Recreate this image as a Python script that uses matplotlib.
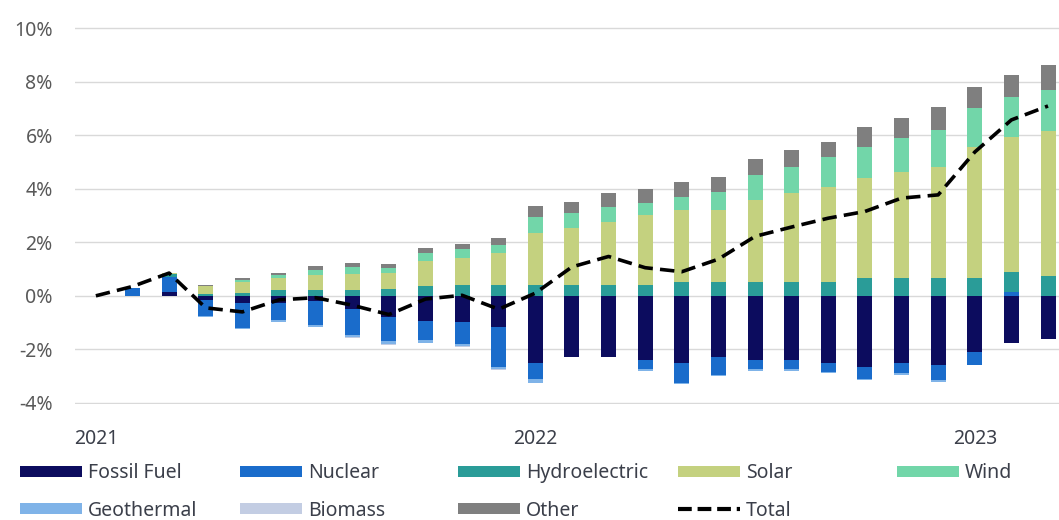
import numpy as np
import matplotlib.pyplot as plt
from matplotlib.patches import Patch
from matplotlib.lines import Line2D

plt.rcParams['font.family'] = ['Noto Sans', 'DejaVu Sans']

# monthly data, Jan 2021 - Mar 2023 (percent change)
months = ['2021-01', '2021-02', '2021-03', '2021-04', '2021-05', '2021-06',
          '2021-07', '2021-08', '2021-09', '2021-10', '2021-11', '2021-12',
          '2022-01', '2022-02', '2022-03', '2022-04', '2022-05', '2022-06',
          '2022-07', '2022-08', '2022-09', '2022-10', '2022-11', '2022-12',
          '2023-01', '2023-02', '2023-03']
year_ticks = [0, 12, 24]
year_labels = ['2021', '2022', '2023']

fossil = [0, 0, 0.15, -0.15, -0.25, -0.25, -0.2, -0.5, -0.8, -0.95, -0.97, -1.15,
          -2.5, -2.3, -2.27, -2.4, -2.5, -2.3, -2.4, -2.4, -2.5, -2.65, -2.5, -2.6,
          -2.1, -1.75, -1.6]
nuclear = [0, 0.3, 0.55, -0.6, -0.95, -0.65, -0.9, -0.95, -0.9, -0.7, -0.83, -1.5,
           -0.6, 0, 0, -0.35, -0.75, -0.65, -0.35, -0.35, -0.35, -0.45, -0.4, -0.55,
           -0.5, 0.15, 0]
hydro = [0, 0, 0.1, 0.05, 0.1, 0.2, 0.22, 0.22, 0.25, 0.35, 0.4, 0.4,
         0.41, 0.41, 0.41, 0.41, 0.52, 0.52, 0.52, 0.52, 0.52, 0.67, 0.67, 0.67,
         0.67, 0.75, 0.75]
solar = [0, 0, 0.05, 0.3, 0.4, 0.45, 0.55, 0.6, 0.6, 0.95, 1.0, 1.2,
         1.94, 2.13, 2.35, 2.61, 2.69, 2.69, 3.06, 3.32, 3.54, 3.73, 3.96, 4.14,
         4.89, 5.04, 5.41]
wind = [0, 0, 0, 0.03, 0.1, 0.12, 0.2, 0.25, 0.2, 0.3, 0.35, 0.3,
        0.6, 0.56, 0.56, 0.45, 0.49, 0.67, 0.93, 0.97, 1.12, 1.16, 1.27, 1.38,
        1.46, 1.49, 1.53]
geothermal = [0, 0, 0, -0.05, -0.05, -0.07, -0.05, -0.1, -0.1, -0.1, -0.07, -0.1,
              -0.15, 0, 0, -0.05, -0.05, -0.05, -0.05, -0.05, -0.05, -0.05, -0.05, -0.05,
              0, 0, 0]
biomass = [0, 0, 0, 0, 0, 0, 0, -0.03, -0.03, -0.03, -0.03, -0.03,
           0, 0, 0, 0, 0, 0, 0, 0, 0, 0, 0, 0,
           0, 0, 0]
other = [0, 0, 0, 0.02, 0.07, 0.08, 0.15, 0.16, 0.15, 0.2, 0.2, 0.25,
         0.41, 0.41, 0.52, 0.52, 0.56, 0.56, 0.6, 0.63, 0.56, 0.75, 0.75, 0.86,
         0.78, 0.82, 0.93]
total = [0, 0.35, 0.85, -0.45, -0.6, -0.15, -0.07, -0.35, -0.7, -0.12, 0.02, -0.5,
         0.1, 1.08, 1.47, 1.05, 0.9, 1.37, 2.22, 2.57, 2.9, 3.15, 3.65, 3.77,
         5.37, 6.57, 7.09]

series = [('Fossil Fuel', fossil, '#0c0c5e'),
          ('Nuclear', nuclear, '#1a6ccb'),
          ('Hydroelectric', hydro, '#2a9c98'),
          ('Solar', solar, '#c4d17f'),
          ('Wind', wind, '#72d6a9'),
          ('Geothermal', geothermal, '#7fb3e8'),
          ('Biomass', biomass, '#c3cde3'),
          ('Other', other, '#7f7f7f')]

fig = plt.figure(figsize=(10.59, 5.2), dpi=100)
ax = fig.add_axes([75 / 1059, 1 - 404 / 520, 1 - 75 / 1059, (404 - 27) / 520])

x = np.arange(len(months))
pos = np.zeros(len(months))
neg = np.zeros(len(months))
handles = {}
for name, vals, col in series:
    v = np.array(vals)
    bottom = np.where(v >= 0, pos, neg)
    ax.bar(x, v, 0.41, bottom=bottom, color=col, zorder=2)
    pos = np.where(v >= 0, pos + v, pos)
    neg = np.where(v < 0, neg + v, neg)
    handles[name] = Patch(facecolor=col, label=name)

ax.plot(x, total, color='black', lw=2.6, ls=(0, (4, 2)), zorder=3)
handles['Total'] = Line2D([], [], color='black', lw=3, ls=(0, (3.3, 1.4)), label='Total')

ax.set_xlim(-0.57, 26.3)
ax.set_ylim(-4.04, 10.04)
ax.set_yticks(range(-4, 11, 2))
ax.set_yticklabels(['%d%%' % t for t in range(-4, 11, 2)])
ax.set_xticks(year_ticks)
ax.set_xticklabels(year_labels)
ax.grid(axis='y', color='#d9d9d9', lw=1, zorder=0)
ax.tick_params(length=0)
ax.tick_params(axis='y', labelsize=14, labelcolor='#595959', pad=16)
ax.tick_params(axis='x', labelsize=14, labelcolor='#3b3f4a', pad=18)
for s in ax.spines.values():
    s.set_visible(False)

# legend, laid out as 5 columns on two rows
columns = [['Fossil Fuel', 'Geothermal'], ['Nuclear', 'Biomass'],
           ['Hydroelectric', 'Other'], ['Solar', 'Total'], ['Wind']]
col_x = [20, 240, 458, 678, 897]
for cx, names in zip(col_x, columns):
    fig.legend(handles=[handles[n] for n in names], loc='upper left',
               bbox_to_anchor=(cx / 1059, 1 - 463 / 520), frameon=False,
               fontsize=14, handlelength=3.2, handleheight=0.5,
               handletextpad=0.3, labelspacing=0.9, borderpad=0, borderaxespad=0,
               labelcolor='#3b3f4a')

fig.savefig('out.png', dpi=100)
